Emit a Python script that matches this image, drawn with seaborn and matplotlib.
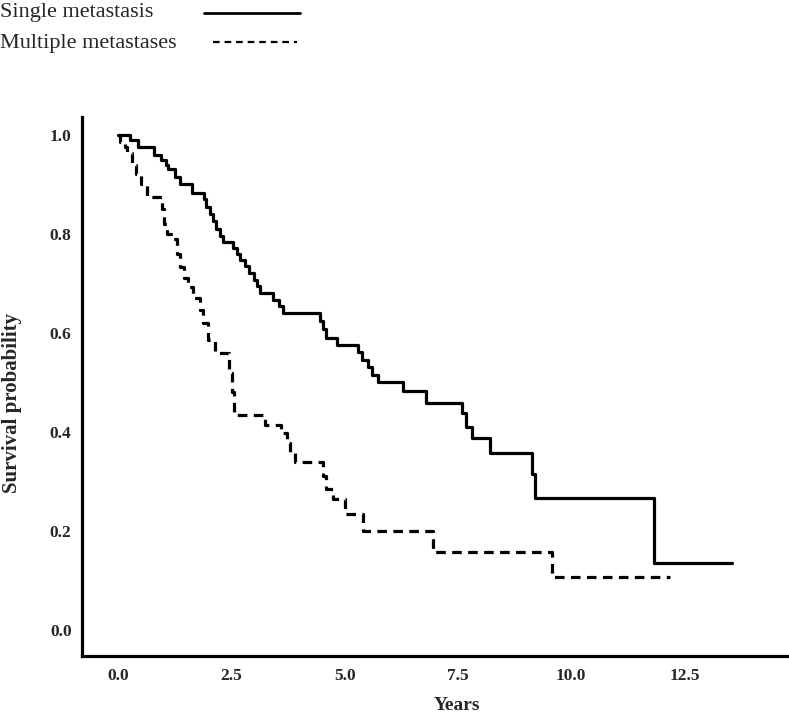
import numpy as np
import pandas as pd
import matplotlib.pyplot as plt
import seaborn as sns
from matplotlib.lines import Line2D

# Kaplan-Meier steps (years, survival probability)
single_years = [0.0, 0.26, 0.45, 0.8, 0.95, 1.05, 1.1, 1.25, 1.37, 1.63, 1.9, 1.95, 2.03,
                2.1, 2.17, 2.25, 2.32, 2.54, 2.62, 2.7, 2.8, 2.9, 3.0, 3.07, 3.13, 3.42,
                3.55, 3.64, 4.46, 4.52, 4.58, 4.83, 5.3, 5.38, 5.51, 5.6, 5.73, 5.85, 6.29,
                6.8, 7.58, 7.6, 7.68, 7.8, 8.2, 9.13, 9.2, 11.82, 13.54]
single_surv = [1.0, 0.99, 0.976, 0.96, 0.95, 0.94, 0.93, 0.915, 0.9, 0.883, 0.87, 0.855, 0.84,
               0.825, 0.81, 0.795, 0.784, 0.772, 0.76, 0.747, 0.735, 0.72, 0.707, 0.695, 0.68, 0.667,
               0.655, 0.641, 0.625, 0.607, 0.59, 0.576, 0.562, 0.545, 0.531, 0.515, 0.5, 0.5, 0.483,
               0.459, 0.446, 0.438, 0.41, 0.388, 0.358, 0.315, 0.267, 0.135, 0.135]

multi_years = [0.0, 0.04, 0.15, 0.2, 0.3, 0.4, 0.5, 0.64, 0.97, 1.02, 1.08, 1.21, 1.3, 1.37,
               1.45, 1.54, 1.65, 1.8, 1.88, 1.99, 2.14, 2.45, 2.52, 2.55, 3.24, 3.6, 3.72,
               3.8, 3.9, 4.52, 4.6, 4.74, 5.0, 5.4, 6.95, 9.57, 12.18]
multi_surv = [1.0, 0.985, 0.975, 0.963, 0.94, 0.92, 0.9, 0.875, 0.85, 0.82, 0.8, 0.79, 0.76, 0.733,
              0.71, 0.693, 0.67, 0.646, 0.62, 0.586, 0.56, 0.52, 0.48, 0.434, 0.414, 0.398, 0.378,
              0.358, 0.34, 0.31, 0.285, 0.264, 0.235, 0.2, 0.158, 0.107, 0.107]

groups = ['Single metastasis', 'Multiple metastases']
x_ticks = [0.0, 2.5, 5.0, 7.5, 10.0, 12.5]
y_ticks = [0.0, 0.2, 0.4, 0.6, 0.8, 1.0]

df = pd.concat([
    pd.DataFrame({'Years': single_years, 'Survival': single_surv, 'group': groups[0]}),
    pd.DataFrame({'Years': multi_years, 'Survival': multi_surv, 'group': groups[1]}),
])

sns.set_style('white')
plt.rcParams['font.family'] = ['Liberation Serif', 'DejaVu Serif']

fig = plt.figure(figsize=(7.89, 7.18), dpi=100)
ax = fig.add_axes([82 / 789, 1 - 656 / 718, 705 / 789, 539 / 718])

sns.lineplot(data=df, x='Years', y='Survival', style='group', style_order=groups,
             dashes={groups[0]: '', groups[1]: (3, 2)}, color='black', lw=2.3,
             estimator=None, sort=False, drawstyle='steps-post', legend=False, ax=ax)

ax.set_xlim(-0.794, 14.76)
ax.set_ylim(-0.0525, 1.036)
ax.set_xticks(x_ticks)
ax.set_yticks(y_ticks)
ax.set_xticklabels([f'{v:.1f}' for v in x_ticks], fontweight='bold', fontsize=12.5)
ax.set_yticklabels([f'{v:.1f}' for v in y_ticks], fontweight='bold', fontsize=12.5)
ax.tick_params(axis='both', direction='out', length=6, width=1.8, color='black', pad=1.5)
ax.tick_params(axis='x', pad=2.5)

for side in ['top', 'right']:
    ax.spines[side].set_visible(False)
for side in ['left', 'bottom']:
    ax.spines[side].set_color('black')
    ax.spines[side].set_linewidth(2.3)

ax.set_xlabel('Years', fontweight='bold', fontsize=14)
ax.set_ylabel('Survival probability', fontweight='bold', fontsize=15)
ax.xaxis.set_label_coords(0.532, -0.076)
ax.yaxis.set_label_coords(-0.085, 0.469)

# legend at top-left, text then line sample
fig.text(0, 1 - 17 / 718, groups[0], fontsize=16, va='baseline', ha='left')
fig.text(0, 1 - 48 / 718, groups[1], fontsize=16, va='baseline', ha='left')
fig.add_artist(Line2D([204 / 789, 300 / 789], [1 - 13 / 718, 1 - 13 / 718],
                      color='black', lw=2.0, transform=fig.transFigure))
fig.add_artist(Line2D([213 / 789, 297 / 789], [1 - 42 / 718, 1 - 42 / 718],
                      color='black', lw=1.6, dashes=(3, 2.2), transform=fig.transFigure))

fig.savefig('out.png', dpi=100)
